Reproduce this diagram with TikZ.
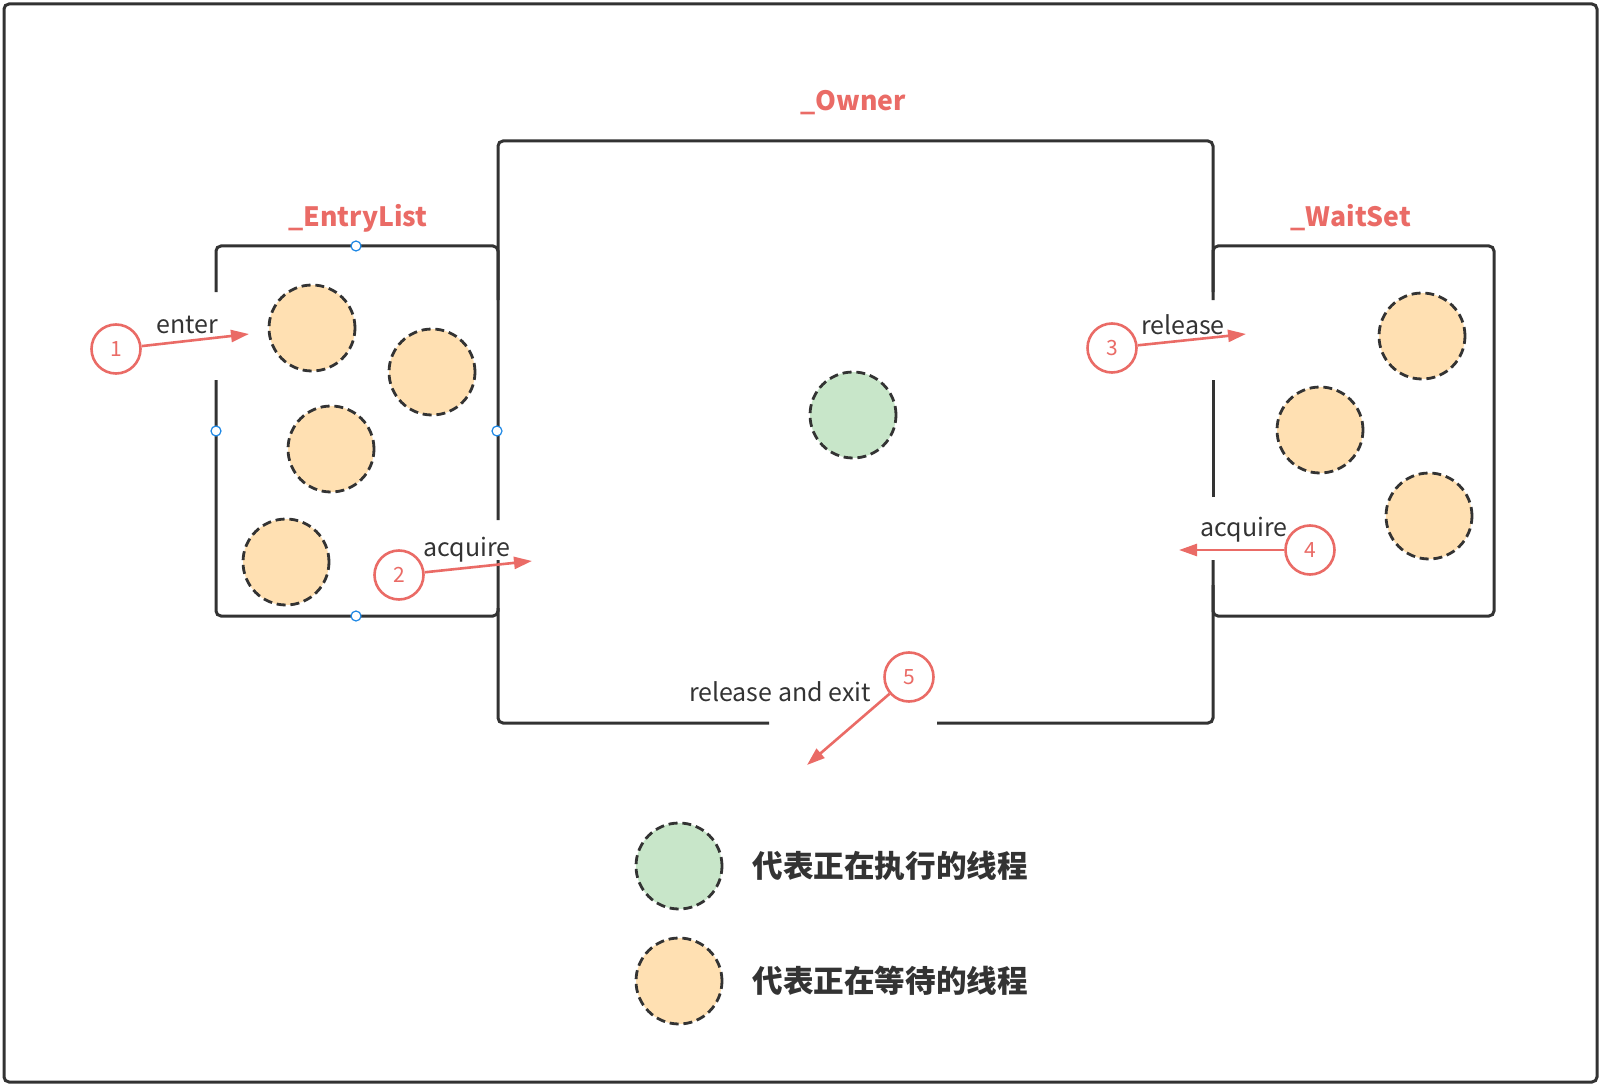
\documentclass[tikz,border=0pt]{standalone}
\usepackage{fontspec}
\setmainfont{Noto Sans CJK SC}
\usetikzlibrary{arrows.meta}
\usetikzlibrary{positioning}
\definecolor{linedark}{HTML}{333333}
\definecolor{markred}{HTML}{EA6B66}
\definecolor{waitfill}{HTML}{FFE0B2}
\definecolor{runfill}{HTML}{C8E6C9}
\definecolor{handleblue}{HTML}{1E88E5}
\tikzset{
  frame/.style={draw=linedark, line width=1.5pt, rounded corners=2.5pt},
  thread/.style={circle, draw=linedark, line width=1.4pt, dash pattern=on 4.5pt off 2.4pt,
    minimum size=43pt, inner sep=0pt},
  waiting/.style={thread, fill=waitfill},
  running/.style={thread, fill=runfill},
  stepnum/.style={circle, draw=markred, line width=1.3pt, fill=white, minimum size=24.5pt,
    inner sep=0pt, text=markred, font=\fontsize{10.5}{10.5}\selectfont},
  flow/.style={draw=markred, line width=1.3pt, -{Triangle[length=9pt,width=6pt]}},
  flowtext/.style={text=linedark, font=\fontsize{12.5}{12.5}\selectfont},
  setname/.style={text=markred, font=\bfseries\fontsize{13.3}{13.3}\selectfont},
  legendtext/.style={text=linedark, font=\bfseries\fontsize{15.3}{15.3}\selectfont},
  handle/.style={circle, draw=handleblue, fill=white, line width=0.6pt, minimum size=5pt, inner sep=0pt}
}
\begin{document}
\begin{tikzpicture}[x=0.5pt, y=-0.5pt]
  \useasboundingbox (0,0) rectangle (1603,1086);
  % outer frame
  \draw[frame] (4,4) rectangle (1597,1082);

  % _Owner box, with its openings
  \draw[frame] (498,608) -- (498,723) -- (769,723);
  \draw[frame] (937,723) -- (1213,723) -- (1213,585);
  \draw[frame] (1213,497) -- (1213,380);
  \draw[frame] (1213,292) -- (1213,141) -- (498,141) -- (498,520);
  % _EntryList box
  \draw[frame] (498,560) -- (498,616) -- (216,616) -- (216,380);
  \draw[frame] (216,292) -- (216,246) -- (498,246) -- (498,300);
  % _WaitSet box
  \draw[frame] (1213,560) -- (1213,616) -- (1494,616) -- (1494,246) -- (1213,246) -- (1213,300);

  % set names
  \node[setname] (ownername) at (853,103) {\_Owner};
  \node[setname] (entryname) at (358,218) {\_EntryList};
  \node[setname] (waitname) at (1351,218) {\_WaitSet};

  % threads
  \node[waiting] (entry1) at (312,328) {};
  \node[waiting] (entry2) at (432,372) {};
  \node[waiting] (entry3) at (331,449) {};
  \node[waiting] (entry4) at (286,562) {};
  \node[running] (owner) at (853,415) {};
  \node[waiting] (wait1) at (1422,336) {};
  \node[waiting] (wait2) at (1320,430) {};
  \node[waiting] (wait3) at (1429,516) {};

  % selection handles
  \node[handle] (handletop) at (356,246) {};
  \node[handle] (handleleft) at (216,431) {};
  \node[handle] (handleright) at (497,431) {};
  \node[handle] (handlebottom) at (356,616) {};

  % steps
  \node[stepnum] (step1) at (116,349) {1};
  \node[stepnum] (step2) at (399,575) {2};
  \node[stepnum] (step3) at (1112,348) {3};
  \node[stepnum] (step4) at (1310,550) {4};
  \node[stepnum] (step5) at (909,677) {5};
  \coordinate (tip1) at (249,334);
  \coordinate (tip2) at (532,561);
  \coordinate (tip3) at (1246,334);
  \coordinate (tip4) at (1179,550);
  \coordinate (tip5) at (807,765);
  \draw[flow] (step1) -- (tip1);
  \draw[flow] (step2) -- (tip2);
  \draw[flow] (step3) -- (tip3);
  \draw[flow] (step4) -- (tip4);
  \draw[flow] (step5) -- (tip5);
  \node[flowtext] (enterlabel) at (187,325) {enter};
  \node[flowtext] (acquirelabel) at (467,550) {acquire};
  \node[flowtext] (releaselabel) at (1183,325) {release};
  \node[flowtext] (reacquirelabel) at (1244,530) {acquire};
  \node[flowtext] (exitlabel) at (780,692) {release and exit};

  % legend
  \node[running] (legendrun) at (679,866) {};
  \node[waiting] (legendwait) at (679,981) {};
  \node[legendtext, right=11pt of legendrun] (runtext) {代表正在执行的线程};
  \node[legendtext, right=11pt of legendwait] (waittext) {代表正在等待的线程};
\end{tikzpicture}
\end{document}
